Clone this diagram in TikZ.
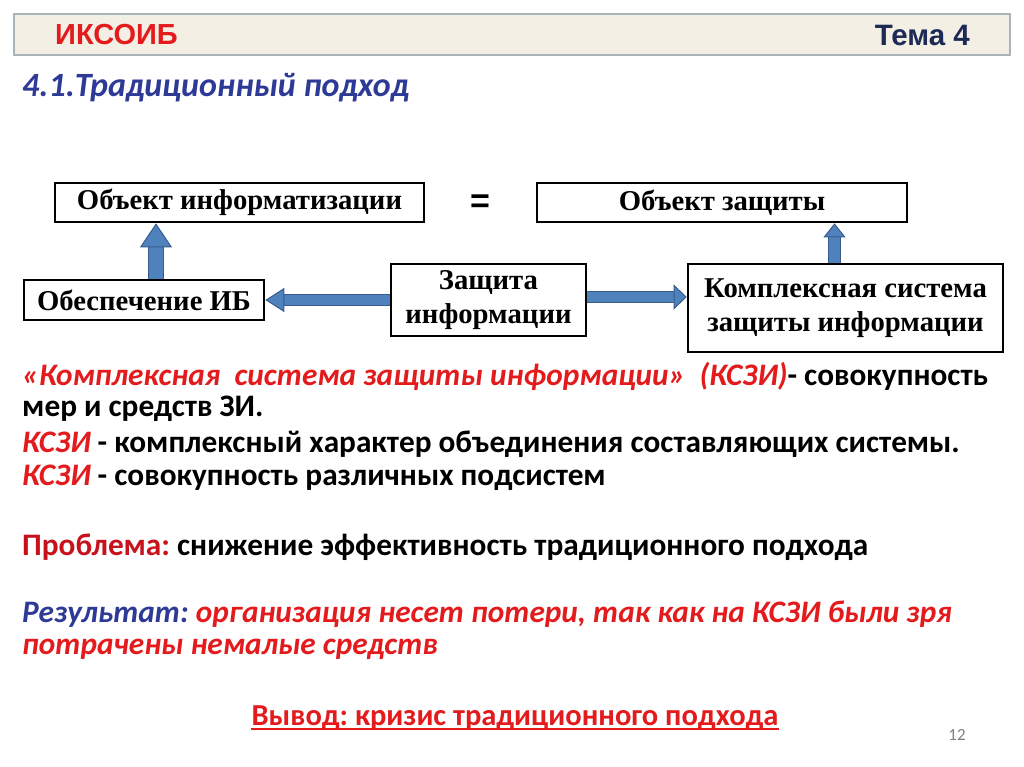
\documentclass[tikz,border=0pt]{standalone}
\usepackage{fontspec}
\setmainfont{Carlito}
\newfontfamily\boxfont{Liberation Serif}
\newfontfamily\headfont{Liberation Sans}
\usetikzlibrary{arrows.meta,positioning}
\frenchspacing
\definecolor{ksred}{HTML}{E31B1D}
\definecolor{probred}{HTML}{C8121B}
\definecolor{ksblue}{HTML}{2D3A96}
\definecolor{ksnavy}{HTML}{1C2A55}
\definecolor{bandfill}{HTML}{F4EFE4}
\definecolor{bandline}{HTML}{A8B3BA}
\definecolor{arrowblue}{HTML}{4F81BD}
\definecolor{arrowedge}{HTML}{385D8A}

\begin{document}
\begin{tikzpicture}[x=1pt,y=-1pt,line join=miter]
  \tikzstyle{box}=[draw=black,line width=2.6pt,fill=white,inner sep=0pt,align=center,
                   font=\boxfont\bfseries\fontsize{28.7}{34}\selectfont]
  \tikzstyle{txt}=[anchor=base west,inner sep=0pt,font=\bfseries\fontsize{31.3}{34}\selectfont]
  \tikzstyle{fat}=[draw=arrowblue,line width=#1]
  \useasboundingbox (0,0) rectangle (1024,767);

  \fill[white] (0,0) rectangle (1024,767);
  \draw[bandline,fill=bandfill,line width=1.5pt] (14,14) rectangle (1010,55);
  \node[anchor=west,inner sep=0pt,text=ksred,font=\headfont\bfseries\fontsize{29}{30}\selectfont] (course) at (55,35) {ИКСОИБ};
  \node[anchor=east,inner sep=0pt,text=ksnavy,font=\headfont\bfseries\fontsize{29.5}{30}\selectfont] (topic) at (970,35) {Тема 4};
  \node[txt,text=ksblue,font=\bfseries\itshape\fontsize{34}{36}\selectfont] (title) at (22,97) {4.1.Традиционный подход};

  \node[box,minimum width=369pt,minimum height=39pt] (infobj) at (239.5,202.5) {Объект информатизации};
  \node[inner sep=0pt,font=\headfont\bfseries\fontsize{34}{34}\selectfont] (eq) at (480,204) {=};
  \node[box,minimum width=370pt,minimum height=39pt] (protobj) at (722,202.5) {Объект защиты};
  \node[box,minimum width=240pt,minimum height=40pt] (ib) at (144,300) {Обеспечение ИБ};
  \node[box,minimum width=195pt,minimum height=72pt] (zi) at (488.5,300) {Защита\\информации};
  \node[box,minimum width=315pt,minimum height=88pt] (kszi) at (845.5,308) {Комплексная система\\защиты информации};

  \draw[fat=14pt,preaction={draw=arrowedge,line width=16pt,shorten >=20pt,-},
        -{Triangle[width=32pt,length=24pt,line width=1pt,fill=arrowblue,color=arrowedge]}]
        ([xshift=12pt]ib.north) -- ([xshift=12pt]ib.north |- infobj.south);
  \draw[fat=11pt,preaction={draw=arrowedge,line width=13pt,shorten >=10pt,-},
        -{Triangle[width=22pt,length=14pt,line width=1pt,fill=arrowblue,color=arrowedge]}]
        ([xshift=-11pt]kszi.north) -- ([xshift=-11pt]kszi.north |- protobj.south);
  \draw[fat=10pt,preaction={draw=arrowedge,line width=12pt,shorten >=16pt,-},
        -{Triangle[width=24pt,length=19pt,line width=1pt,fill=arrowblue,color=arrowedge]}]
        (zi.west) -- (ib.east);
  \draw[fat=10pt,preaction={draw=arrowedge,line width=12pt,shorten >=10pt,-},
        -{Triangle[width=25pt,length=13pt,line width=1pt,fill=arrowblue,color=arrowedge]}]
        ([yshift=3pt]zi.east) -- ([yshift=3pt]zi.east -| kszi.west);

  \node[txt] (def1) at (22,385) {\textcolor{ksred}{\itshape «Комплексная\ \ система защиты информации»\ \ (КСЗИ)}- совокупность};
  \node[txt] (def2) at (22,416) {мер и средств ЗИ.};
  \node[txt] (def3) at (22,452) {\textcolor{ksred}{\itshape КСЗИ} - комплексный характер объединения составляющих системы.};
  \node[txt] (def4) at (22,485) {\textcolor{ksred}{\itshape КСЗИ} - совокупность различных подсистем};
  \node[txt] (problem) at (22,555) {\textcolor{probred}{Проблема:} снижение эффективность традиционного подхода};
  \node[txt,text=ksred] (result1) at (22,622) {\itshape\textcolor{ksblue}{Результат:} организация несет потери, так как на КСЗИ были зря};
  \node[txt,text=ksred] (result2) at (22,654) {\itshape потрачены немалые средств};
  \node[txt,anchor=base,text=ksred,font=\bfseries\fontsize{30.5}{34}\selectfont] (concl) at (515,725) {Вывод: кризис традиционного подхода};
  \draw[ksred,line width=2pt] ([yshift=-3.5pt]concl.base west) -- ([yshift=-3.5pt]concl.base east);
  \node[inner sep=0pt,text=gray,font=\fontsize{17}{17}\selectfont] (page) at (957,735) {12};
\end{tikzpicture}
\end{document}
